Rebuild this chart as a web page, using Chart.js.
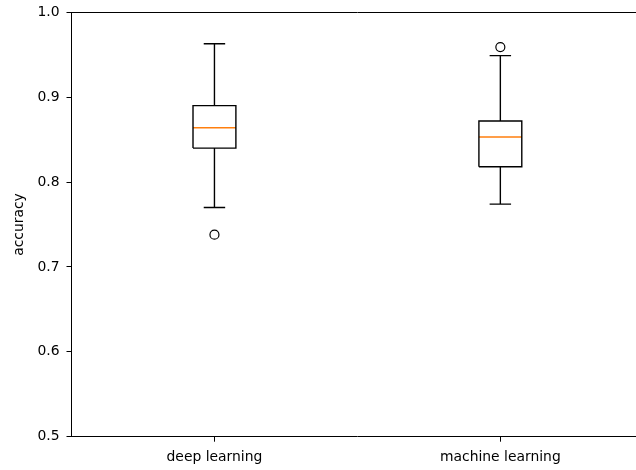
<!DOCTYPE html>
<html>
<head>
<meta charset="utf-8">
<script src="https://cdn.jsdelivr.net/npm/chart.js@4"></script>
<style>
  html, body { margin: 0; padding: 0; background: #fff; overflow: hidden; }
  #wrap { width: 636px; height: 470px; overflow: hidden; }
  #boxChart { display: block; }
</style>
</head>
<body>
<!-- canvas is a bit wider than the window: the right spine sits just outside the frame, like the reference -->
<div id="wrap"><canvas id="boxChart" width="649" height="470"></canvas></div>
<script>
// ------------------------------
// DATA
// ------------------------------
const categories = ['deep learning', 'machine learning'];
const q1Values = [0.840, 0.818];
const medianValues = [0.864, 0.853];
const q3Values = [0.890, 0.872];
const whiskerLow = [0.770, 0.774];
const whiskerHigh = [0.963, 0.949];
const outlierValues = [[0.738], [0.959]];
const yTicks = [0.5, 0.6, 0.7, 0.8, 0.9, 1.0];

// box half width in x units (boxes sit at positions 1, 2, ...)
const HALF = 0.075;

// outline = box + whiskers + caps, null points split the pieces
const outline = [];
const medians = [];
const fliers = [];
categories.forEach((c, i) => {
  const p = i + 1;
  const lo = q1Values[i], hi = q3Values[i];
  outline.push(
    {x: p - HALF, y: lo}, {x: p + HALF, y: lo}, {x: p + HALF, y: hi},
    {x: p - HALF, y: hi}, {x: p - HALF, y: lo}, {x: p, y: null},
    {x: p, y: lo}, {x: p, y: whiskerLow[i]}, {x: p, y: null},
    {x: p - HALF / 2, y: whiskerLow[i]}, {x: p + HALF / 2, y: whiskerLow[i]}, {x: p, y: null},
    {x: p, y: hi}, {x: p, y: whiskerHigh[i]}, {x: p, y: null},
    {x: p - HALF / 2, y: whiskerHigh[i]}, {x: p + HALF / 2, y: whiskerHigh[i]}, {x: p, y: null}
  );
  medians.push({x: p - HALF, y: medianValues[i]}, {x: p + HALF, y: medianValues[i]}, {x: p, y: null});
  outlierValues[i].forEach(v => fliers.push({x: p, y: v}));
});

const FONT = {family: '"DejaVu Sans", sans-serif', size: 13.9};

// keep the plot area exactly where the reference has it
const noPad = (scale) => {
  scale.paddingLeft = 0;
  scale.paddingRight = 0;
  scale.paddingTop = 0;
  scale.paddingBottom = 0;
};

new Chart(document.getElementById('boxChart').getContext('2d'), {
  type: 'line',
  data: {
    datasets: [
      {
        label: 'boxes',
        data: outline,
        borderColor: '#000',
        borderWidth: 1.4,
        pointRadius: 0,
        tension: 0,
        spanGaps: false,
        fill: false
      },
      {
        label: 'medians',
        data: medians,
        borderColor: '#ff7f0e',
        borderWidth: 1.4,
        pointRadius: 0,
        tension: 0,
        spanGaps: false,
        fill: false
      },
      {
        label: 'fliers',
        data: fliers,
        showLine: false,
        pointStyle: 'circle',
        pointRadius: 4.5,
        pointBorderColor: '#000',
        pointBackgroundColor: 'rgba(0,0,0,0)',
        pointBorderWidth: 1.2
      }
    ]
  },
  options: {
    responsive: false,
    animation: false,
    layout: {padding: 0},
    plugins: {
      legend: {display: false},
      tooltip: {enabled: false}
    },
    scales: {
      x: {
        type: 'linear',
        position: 'bottom',
        min: 0.5,
        max: 2.5,
        afterBuildTicks: (scale) => {
          scale.ticks = categories.map((c, i) => ({value: i + 1}));
        },
        afterFit: (scale) => { scale.height = 33.3; noPad(scale); },
        ticks: {
          autoSkip: false,
          maxRotation: 0,
          padding: 7,
          color: '#000',
          font: FONT,
          callback: (v) => categories[v - 1] || ''
        },
        grid: {drawOnChartArea: false, drawTicks: true, tickLength: 5, tickColor: '#000', tickWidth: 1},
        border: {display: true, color: '#000', width: 1}
      },
      // top spine only
      xTop: {
        type: 'linear',
        position: 'top',
        display: true,
        min: 0.5,
        max: 2.5,
        afterBuildTicks: (scale) => { scale.ticks = []; },
        afterFit: (scale) => { scale.height = 12.3; noPad(scale); },
        ticks: {display: false},
        grid: {drawOnChartArea: false, drawTicks: false},
        border: {display: true, color: '#000', width: 1}
      },
      y: {
        type: 'linear',
        min: 0.5,
        max: 1.0,
        afterBuildTicks: (scale) => {
          scale.ticks = yTicks.map(v => ({value: v}));
        },
        afterFit: (scale) => { scale.width = 71.5; noPad(scale); },
        ticks: {
          padding: 7,
          color: '#000',
          font: FONT,
          callback: (v) => v.toFixed(1)
        },
        title: {
          display: true,
          text: 'accuracy',
          color: '#000',
          font: FONT,
          padding: {top: 11, bottom: 0}
        },
        grid: {drawOnChartArea: false, drawTicks: true, tickLength: 5, tickColor: '#000', tickWidth: 1},
        border: {display: true, color: '#000', width: 1}
      }
    }
  }
});
</script>
</body>
</html>
